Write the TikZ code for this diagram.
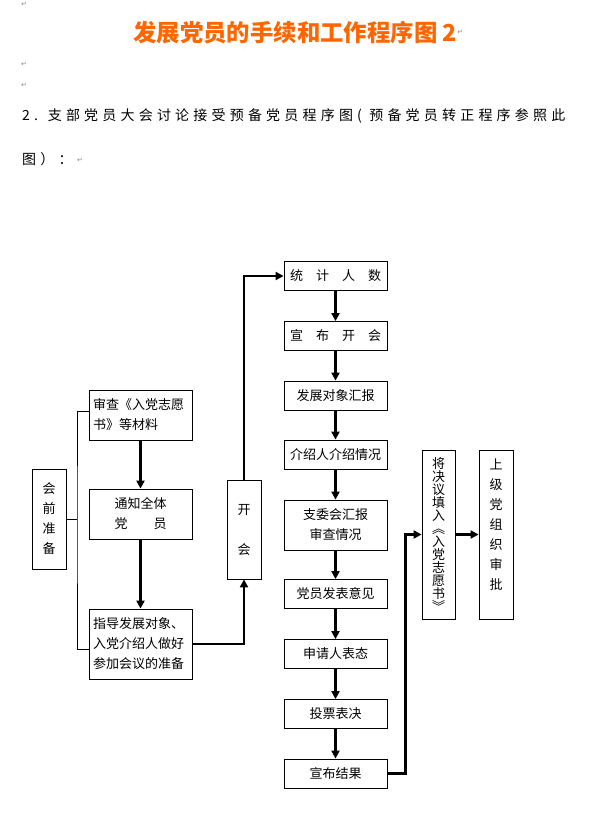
\documentclass[tikz,border=0pt]{standalone}
\usepackage{fontspec}
\usetikzlibrary{arrows.meta}
\newfontfamily\cjk{Noto Sans CJK SC}
\newfontfamily\cjkwide[LetterSpace=30]{Noto Sans CJK SC}
\newfontfamily\marksym{DejaVu Sans}
\definecolor{ttlorange}{HTML}{FF6600}
\definecolor{markgray}{HTML}{8C8C8C}
\tikzset{
  bx/.style={draw=black, line width=0.8pt, inner sep=0pt, align=center, font=\cjk\fontsize{13}{20}\selectfont},
  wbx/.style={bx, minimum width=103pt, minimum height=29pt},
  lbx/.style={bx, minimum width=103pt, minimum height=50pt},
  vbx/.style={bx, minimum width=34pt, minimum height=169pt},
  arr/.style={-{Triangle[length=8pt,width=8pt]}, line width=2.5pt},
  brk/.style={line width=0.8pt},
  pmark/.style={font=\marksym\fontsize{7}{7}\selectfont, text=markgray, inner sep=0pt},
}
\begin{document}
\begin{tikzpicture}[x=1pt, y=-1pt]
  \useasboundingbox (0,0) rectangle (597,821);
  % heading and paragraph marks
  \node[pmark] (pm0) at (24,4) {↵};
  \node[anchor=west, inner sep=0pt, text=ttlorange, font=\cjk\bfseries\fontsize{23.4}{24}\selectfont] (ttl) at (133,32.5) {发展党员的手续和工作程序图 2};
  \node[pmark, anchor=west] (pm1) at (ttl.east) {↵};
  \node[pmark] (pm2) at (24,64) {↵};
  \node[pmark] (pm3) at (24,85) {↵};
  \node[anchor=west, inner sep=0pt, font=\cjkwide\fontsize{14}{14}\selectfont] (sub1) at (22,116) {2. 支部党员大会讨论接受预备党员程序图( 预备党员转正程序参照此};
  \node[anchor=west, inner sep=0pt, font=\cjkwide\fontsize{14}{14}\selectfont] (sub2) at (22,159) {图）：};
  \node[pmark, anchor=west] (pm4) at (77,160) {↵};
  % preparation column
  \node[bx, minimum width=34pt, minimum height=100pt] (prep) at (49,519) {会\\前\\准\\备};
  \node[lbx, align=left, text width=95pt] (chk) at (140.5,415) {审查《入党志愿\\书》等材料};
  \node[lbx] (ntf) at (140.5,514) {通知全体\\党　　员};
  \node[bx, minimum width=103pt, minimum height=70pt, align=left, text width=95pt] (gdn) at (140.5,644) {指导发展对象、\\入党介绍人做好\\参加会议的准备};
  \node[bx, minimum width=34pt, minimum height=99pt] (kh) at (244,529.5) {开\\[20pt]会};
  % meeting column
  \node[wbx] (tj) at (335.5,276) {统　计　人　数};
  \node[wbx] (xb) at (335.5,336) {宣　布　开　会};
  \node[wbx] (fz) at (335.5,395.5) {发展对象汇报};
  \node[wbx] (js) at (335.5,454.5) {介绍人介绍情况};
  \node[lbx] (zw) at (335.5,525) {支委会汇报\\审查情况};
  \node[wbx] (dy) at (335.5,594) {党员发表意见};
  \node[wbx] (sq) at (335.5,654) {申请人表态};
  \node[wbx] (tp) at (335.5,714) {投票表决};
  \node[wbx] (jg) at (335.5,773.5) {宣布结果};
  % after the meeting
  \node[vbx, minimum width=33pt, font=\cjk\fontsize{13}{13}\selectfont] (tr) at (438.5,534.5) {将\\决\\议\\填\\入\\︽\\入\\党\\志\\愿\\书\\︾};
  \node[vbx] (sj) at (496,534.5) {上\\级\\党\\组\\织\\审\\批\\\mbox{}};
  % connectors
  \coordinate (brace) at (77,519);
  \draw[brk] (prep.east) -- (brace);
  \draw[brk] ([yshift=4pt]chk.west) -| (brace) |- ([yshift=-5pt]gdn.west);
  \draw[arr] (chk) -- (ntf);
  \draw[arr] (ntf) -- (gdn);
  \draw[arr] (gdn.east) -| (kh.south);
  \draw[arr] (kh.north) |- (tj.west);
  \foreach \a/\b in {tj/xb, xb/fz, fz/js, js/zw, zw/dy, dy/sq, sq/tp, tp/jg}
    \draw[arr] (\a) -- (\b);
  \draw[arr] (jg.east) -- ++(18pt,0) |- (tr.west);
  \draw[arr] (tr) -- (sj);
\end{tikzpicture}
\end{document}
